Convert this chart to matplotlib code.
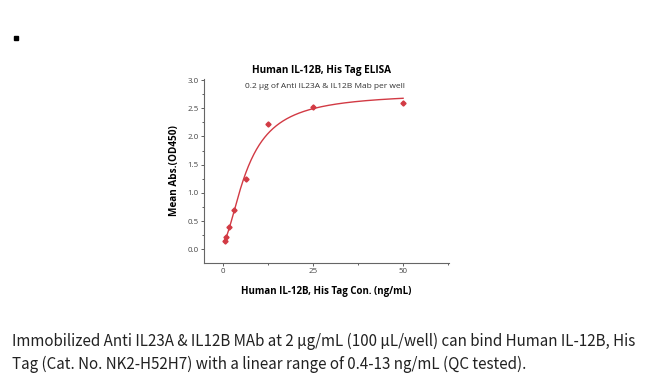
import numpy as np
import matplotlib
matplotlib.use("Agg")
import matplotlib.pyplot as plt
from matplotlib.ticker import MultipleLocator
from matplotlib.patches import Rectangle

# data (ng/mL vs OD450)
conc = [50, 25, 12.5, 6.25, 3.125, 1.5625, 0.78, 0.39]
od450 = [2.59, 2.52, 2.23, 1.24, 0.69, 0.40, 0.21, 0.15]

x_ticks = [0, 25, 50]
y_ticks = [0.0, 0.5, 1.0, 1.5, 2.0, 2.5, 3.0]

title = "Human IL-12B, His Tag ELISA"
subtitle = "0.2 \u00b5g of Anti IL23A & IL12B Mab per well"
xlabel = "Human IL-12B, His Tag Con. (ng/mL)"
ylabel = "Mean Abs.(OD450)"
caption = ("Immobilized Anti IL23A & IL12B MAb at 2 \u00b5g/mL (100 \u00b5L/well) can bind Human IL-12B, His\n"
           "Tag (Cat. No. NK2-H52H7) with a linear range of 0.4-13 ng/mL (QC tested).")

RED = "#d23a44"


def four_pl(x, p):
    a, b, c, d = p
    return d + (a - d) / (1.0 + (x / c) ** b)


def fit_4pl(x, y):
    """small Levenberg-Marquardt fit (1/sqrt(y) weighted), no scipy needed"""
    x = np.asarray(x, float)
    y = np.asarray(y, float)
    w = 1.0 / np.sqrt(y)
    p = np.array([0.05, 1.5, 8.0, 2.7])
    lam = 1e-2
    for _ in range(800):
        r = (y - four_pl(x, p)) * w
        J = np.empty((len(x), 4))
        for i in range(4):
            dp = np.zeros(4)
            dp[i] = 1e-6 * max(abs(p[i]), 1.0)
            J[:, i] = (four_pl(x, p + dp) - four_pl(x, p)) / dp[i] * w
        A = J.T @ J
        step = np.linalg.solve(A + lam * np.diag(np.diag(A)), J.T @ r)
        p_new = p + step
        if p_new[2] > 0 and np.sum(((y - four_pl(x, p_new)) * w) ** 2) < np.sum(r ** 2):
            p = p_new
            lam *= 0.5
        else:
            lam *= 4
    return p


params = fit_4pl(conc, od450)

plt.rcParams['font.family'] = ['Open Sans', 'DejaVu Sans']

fig = plt.figure(figsize=(6.5, 3.76), dpi=100)
ax = fig.add_axes([0.314, 0.301, 0.377, 0.489])

xs = np.linspace(0.3, 50, 400)
ax.plot(xs, four_pl(xs, params), color=RED, lw=1.0)
ax.plot(conc, od450, linestyle='none', marker='D', markersize=2.6, color=RED)

ax.set_xlim(-5.3, 62.8)
ax.set_ylim(-0.24, 3.02)
ax.set_xticks(x_ticks)
ax.set_yticks(y_ticks)
ax.xaxis.set_minor_locator(MultipleLocator(12.5))
ax.yaxis.set_minor_locator(MultipleLocator(0.25))
ax.tick_params(which='both', direction='out', labelsize=5.7, colors='#444444',
               width=0.6, pad=1.5)
ax.tick_params(which='major', length=2.5)
ax.tick_params(which='minor', length=1.5)
ax.spines['top'].set_visible(False)
ax.spines['right'].set_visible(False)
for s in ('left', 'bottom'):
    ax.spines[s].set_color('#666666')
    ax.spines[s].set_linewidth(0.8)

ax.set_xlabel(xlabel, fontsize=7, fontweight='bold', labelpad=8)
ax.set_ylabel(ylabel, fontsize=7.2, fontweight='bold', labelpad=5)

fig.text(0.495, 0.812, title, fontsize=7.2, fontweight='bold', ha='center', va='center')
fig.text(0.500, 0.770, subtitle, fontsize=6.0, ha='center', va='center', color='#333333')

fig.text(0.018, 0.007, caption, fontsize=10.9, ha='left', va='bottom', color='#222222',
         linespacing=1.45, family=['Noto Sans CJK SC', 'DejaVu Sans'])

fig.patches.append(Rectangle((0.022, 0.893), 0.006, 0.011, transform=fig.transFigure,
                             color='black'))

fig.savefig("out.png", dpi=100)
